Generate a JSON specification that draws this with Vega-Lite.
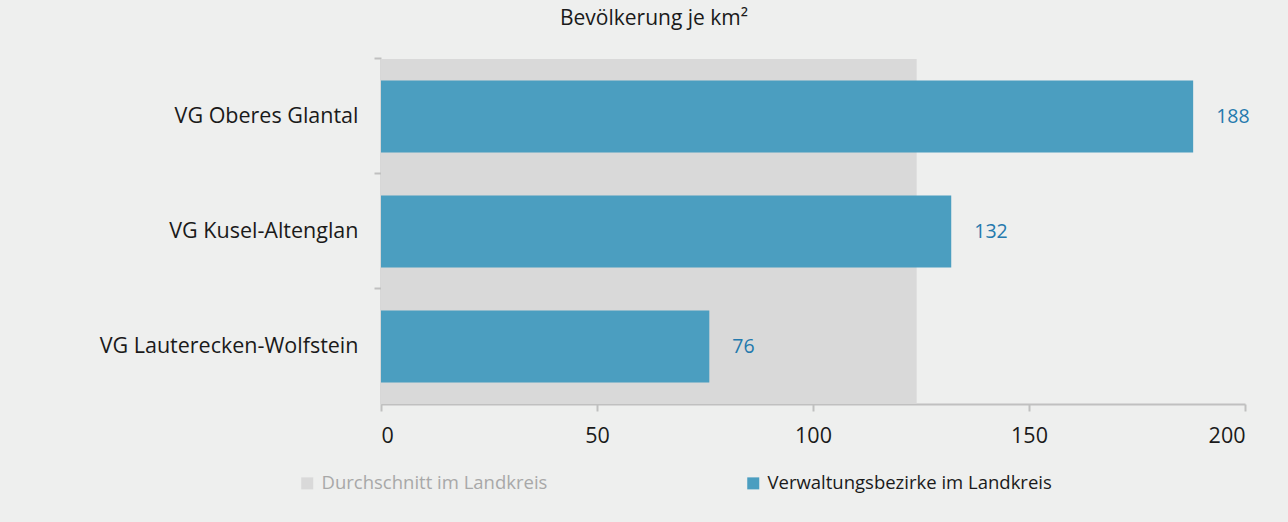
{
  "$schema": "https://vega.github.io/schema/vega-lite/v6.json",
  "width": 864,
  "height": 345,
  "autosize": "none",
  "padding": {"left": 381, "top": 59, "right": 43, "bottom": 118},
  "background": "#eeefee",
  "title": {
    "text": "Bevölkerung je km²",
    "anchor": "middle",
    "frame": "group",
    "dx": -159,
    "offset": 28,
    "fontSize": 21,
    "fontWeight": "normal",
    "font": "Open Sans",
    "color": "#1a1a1a"
  },
  "datasets": {
    "bars": [
      {"name": "VG Oberes Glantal", "value": 188, "series": "Verwaltungsbezirke im Landkreis"},
      {"name": "VG Kusel-Altenglan", "value": 132, "series": "Verwaltungsbezirke im Landkreis"},
      {"name": "VG Lauterecken-Wolfstein", "value": 76, "series": "Verwaltungsbezirke im Landkreis"}
    ],
    "avg": [
      {"value": 124, "series": "Durchschnitt im Landkreis"}
    ]
  },
  "config": {
    "view": {"stroke": null},
    "font": "Open Sans",
    "axis": {
      "domainColor": "#c0c0c0",
      "domainWidth": 2,
      "tickColor": "#c0c0c0",
      "tickWidth": 2,
      "tickSize": 7,
      "labelFontSize": 21.5,
      "labelColor": "#1a1a1a",
      "labelFont": "Open Sans",
      "labelLimit": 400,
      "grid": false,
      "title": null,
      "zindex": 1
    }
  },
  "layer": [
    {
      "data": {"name": "avg"},
      "mark": {"type": "rect"},
      "encoding": {
        "x": {"field": "value", "type": "quantitative"},
        "x2": {"datum": 0},
        "color": {
          "field": "series",
          "type": "nominal",
          "scale": {
            "domain": ["Durchschnitt im Landkreis", "Verwaltungsbezirke im Landkreis"],
            "range": ["#d9d9d9", "#4b9ec0"]
          },
          "legend": {
            "title": null,
            "orient": "none",
            "direction": "horizontal",
            "legendX": -83,
            "legendY": 415,
            "symbolType": "square",
            "symbolSize": 144,
            "symbolStrokeWidth": 0,
            "symbolOpacity": 1,
            "labelFontSize": 18.5,
            "labelFont": "Open Sans",
            "labelOffset": 5,
            "columnPadding": 196,
            "labelLimit": 400,
            "encode": {
              "labels": {
                "update": {
                  "fill": {"signal": "datum.label === 'Durchschnitt im Landkreis' ? '#a8a8a8' : '#1a1a1a'"}
                }
              }
            }
          }
        }
      }
    },
    {
      "data": {"name": "bars"},
      "mark": {"type": "bar"},
      "encoding": {
        "y": {
          "field": "name",
          "type": "nominal",
          "sort": null,
          "scale": {"paddingInner": 0.374, "paddingOuter": 0.187},
          "axis": {"labelPadding": 16, "bandPosition": -0.3}
        },
        "x": {
          "field": "value",
          "type": "quantitative",
          "scale": {"domain": [0, 200]},
          "axis": {"values": [0, 50, 100, 150, 200], "labelPadding": 14}
        },
        "color": {"field": "series", "type": "nominal"}
      }
    },
    {
      "data": {"name": "bars"},
      "mark": {"type": "text", "align": "left", "dx": 23, "fontSize": 19.5, "color": "#2479ad", "font": "Open Sans"},
      "encoding": {
        "y": {"field": "name", "type": "nominal", "sort": null},
        "x": {"field": "value", "type": "quantitative"},
        "text": {"field": "value", "type": "quantitative"}
      }
    }
  ]
}
